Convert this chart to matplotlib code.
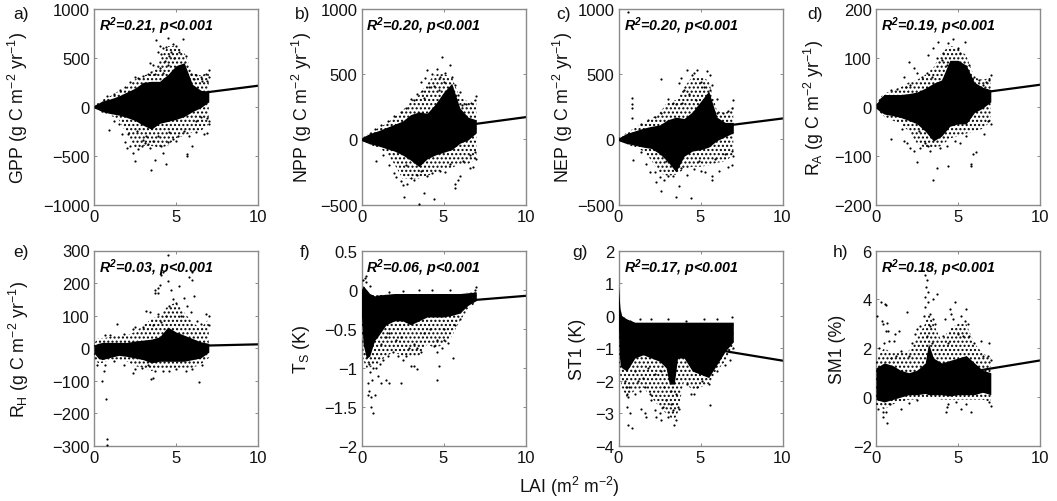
import matplotlib
matplotlib.use('Agg')
import matplotlib.pyplot as plt

plt.rcParams['font.family'] = 'Liberation Sans'
plt.rcParams['mathtext.fontset'] = 'custom'
plt.rcParams['mathtext.rm'] = 'Liberation Sans'
plt.rcParams['mathtext.it'] = 'Liberation Sans:italic'
plt.rcParams['mathtext.bf'] = 'Liberation Sans:bold'
plt.rcParams['mathtext.bfit'] = 'Liberation Sans:italic:bold'

lai_grid = [0, .25, .5, 1, 1.5, 2, 2.5, 3, 3.5, 4, 4.5, 5, 5.5, 6, 6.5, 7]
gpp_high = [12, 35, 60, 80, 110, 150, 190, 250, 260, 260, 330, 420, 450, 230, 170, 150]
gpp_low = [-12, -30, -50, -70, -85, -110, -140, -190, -230, -170, -150, -130, -100, -50, -10, 50]
npp_high = [10, 28, 45, 65, 90, 115, 140, 190, 210, 200, 270, 360, 430, 240, 170, 150]
npp_low = [-10, -22, -35, -50, -70, -90, -120, -160, -210, -150, -120, -100, -80, -30, -5, 50]
nep_high = [10, 28, 45, 65, 85, 100, 110, 150, 170, 160, 210, 290, 370, 170, 130, 130]
nep_low = [-10, -22, -33, -45, -60, -70, -110, -170, -250, -130, -90, -80, -60, -10, 20, 50]
ra_high = [4, 18, 25, 25, 25, 27, 30, 38, 48, 55, 95, 95, 85, 50, 40, 35]
ra_low = [-3, -10, -15, -18, -22, -28, -35, -50, -70, -60, -40, -35, -35, -12, -3, 10]
rh_high = [10, 15, 18, 18, 18, 18, 22, 25, 28, 35, 65, 50, 40, 30, 20, 15]
rh_low = [-15, -30, -35, -28, -22, -25, -30, -35, -45, -40, -40, -40, -40, -35, -30, -12]

# speckled outer part of each cloud
gpp_outer_high = [10, 40, 70, 110, 160, 200, 280, 320, 340, 480, 620, 620, 560, 350, 320, 350]
gpp_outer_low = [-10, -35, -60, -90, -130, -280, -430, -400, -400, -420, -400, -320, -300, -260, -250, -180]
npp_outer_high = [8, 30, 50, 85, 120, 170, 220, 290, 340, 430, 500, 500, 480, 320, 290, 300]
npp_outer_low = [-8, -25, -40, -65, -100, -190, -300, -300, -300, -280, -260, -230, -220, -190, -190, -150]
nep_outer_high = [8, 30, 50, 90, 125, 160, 200, 290, 300, 400, 480, 480, 450, 220, 200, 250]
nep_outer_low = [-8, -25, -40, -60, -90, -160, -260, -280, -270, -230, -210, -210, -200, -180, -170, -120]
ra_outer_high = [3, 18, 28, 32, 40, 50, 55, 65, 80, 110, 125, 120, 105, 60, 55, 60]
ra_outer_low = [-2, -12, -20, -28, -35, -50, -75, -85, -85, -80, -65, -60, -55, -50, -45, -30]
rh_outer_high = [15, 30, 30, 35, 40, 40, 50, 70, 90, 100, 130, 140, 110, 80, 60, 90]
rh_outer_low = [-35, -45, -45, -35, -35, -40, -55, -60, -70, -60, -65, -60, -60, -60, -50, -30]

ts_lai = [0, .1, .3, .5, .8, 1, 1.5, 2, 2.5, 3, 3.5, 4, 4.5, 5, 5.5, 6, 6.5, 7]
ts_high = [0, .05, 0, -.05, -.08, -.07, -.06, -.05, -.05, -.05, -.05, -.05, -.05, -.05, -.05, -.05, -.04, -.03]
ts_low = [-.35, -.7, -.88, -.85, -.65, -.6, -.45, -.4, -.4, -.45, -.4, -.35, -.35, -.35, -.33, -.3, -.2, -.14]
ts_outer_low = [-.4, -.9, -1.0, -1.0, -.95, -.95, -.85, -.8, -.85, -.85, -.85, -.7, -.75, -.7, -.6, -.4, -.25, -.16]

st1_lai = [0, .05, .1, .2, .5, 1, 1.5, 2, 2.5, 2.9, 3.1, 3.4, 3.6, 4, 4.5, 5, 5.5, 6, 6.5, 7]
st1_high = [.9, .5, .2, 0, -.1, -.2, -.2, -.2, -.2, -.2, -.2, -.2, -.2, -.2, -.2, -.2, -.2, -.2, -.2, -.2]
st1_low = [-.4, -1.2, -1.5, -1.6, -1.7, -1.3, -1.2, -1.3, -1.4, -1.6, -2.1, -2.1, -1.3, -1.3, -1.7, -1.8, -1.9, -1.5, -1.1, -.8]
st1_outer_low = [-.5, -1.5, -1.8, -2.2, -2.5, -2.3, -2.2, -2.5, -2.8, -3, -3.1, -3.2, -3, -2, -2.3, -2.2, -2.1, -1.7, -1.4, -1.0]

sm1_lai = [0, .5, 1, 1.5, 2, 2.5, 3, 3.2, 3.5, 4, 4.5, 5, 5.5, 6, 6.5, 7]
sm1_high = [1.2, 1.4, 1.3, 1.1, 1, 1.1, 1.4, 2.2, 1.6, 1.4, 1.5, 1.6, 1.7, 1.4, 1.1, 1]
sm1_low = [-.1, -.2, -.1, 0, .1, .1, .15, .1, .1, .1, .05, .1, .1, .1, .2, .1]
sm1_outer_high = [1.6, 2, 1.8, 1.8, 1.9, 2.4, 3, 3.5, 3, 2.3, 2.8, 3, 3, 2.2, 1.8, 1.6]
sm1_outer_low = [-.3, -.5, -.3, -.2, -.1, -.1, 0, 0, -.05, -.1, -.1, -.1, -.1, -.1, -.1, -.2]

# single dots outside the speckled part
gpp_points = [(3.8,680),(4.5,700),(4.0,620),(4.2,600),(4.4,610),(4.8,640),(5.0,620),(5.4,690),(5.2,560),(4.1,540),(4.6,520),(3.4,450),(3.6,430),(4.3,470),(4.9,500),(3.9,560),(4.7,560),(5.6,520),(5.9,330),(6.2,320),(6.5,300),(6.8,340),(7,380),(7,300),(6.9,260),(6.6,260),(6.1,280),(3.0,310),(3.3,330),(2.7,290),(2.5,300),(2.2,250),(1.9,200),(1.6,170),(1.2,130),(.8,110),(3.7,330),(4,400),(4.5,430),(3.5,360),(4.2,350),
	(.9,-240),(1.7,-280),(1.9,-360),(2,-420),(2.2,-400),(2.4,-470),(2.5,-550),(2.7,-430),(2.9,-400),(3.1,-370),(3.3,-380),(3.5,-650),(3.7,-540),(3.4,-420),(3.6,-350),(4.1,-400),(4.2,-470),(4.4,-590),(4.5,-360),(4.8,-330),(5,-350),(5.1,-300),(5.7,-480),(5.7,-500),(6,-400),(5.8,-300),(6.2,-260),(6.7,-280),(6.9,-270),(7,-180),(6.9,-110),(7,-150),(6.5,-100),(6.2,-150),(5.5,-250),(4.6,-260),(3.9,-300),(3.2,-300),(2.6,-250),(2.1,-280),(1.5,-180),(1.2,-150),(3.0,-340)]
npp_points = [(4.9,630),(5.4,570),(4.6,540),(4.0,530),(4.3,500),(3.9,470),(4.8,480),(5.1,510),(6,360),(5.9,340),(5.7,420),(3.4,350),(3.7,370),(3.2,300),(3,310),(2.7,240),(2.4,210),(2,180),(1.6,140),(1.2,110),(.8,80),(7,330),(6.9,300),(6.7,280),(6.4,270),(6.1,260),(5.5,480),(5,440),(4.4,410),(4.1,400),(3.8,320),(3.6,440),(4.7,380),
	(.9,-170),(1.7,-200),(2,-260),(2.1,-290),(2.4,-320),(2.5,-350),(2.6,-440),(2.8,-340),(3,-300),(3.2,-310),(3.5,-495),(3.8,-410),(4.4,-460),(3.4,-270),(4,-280),(4.3,-260),(4.8,-240),(5.1,-250),(5.7,-370),(5.7,-340),(5.9,-310),(6,-280),(6.6,-220),(6.8,-215),(7,-150),(6.9,-100),(6.6,-120),(6.2,-170),(5.4,-190),(3.6,-240),(2.7,-200),(1.3,-120)]
nep_points = [(.6,975),(.8,320),(.8,270),(.8,240),(.8,165),(2.6,465),(3.7,430),(3.8,470),(4.2,530),(4.5,490),(4.8,530),(4.6,510),(5.4,525),(5.6,490),(5.7,420),(6,310),(3,310),(3.3,280),(3.5,270),(4.0,380),(4.3,350),(5,440),(5.2,400),(5.6,380),(2.6,200),(2.2,170),(1.8,150),(1.4,120),(7,300),(6.9,240),(6.7,220),(6.4,200),(6,200),(3.9,280),(4.7,300),
	(.9,-160),(1.7,-190),(1.9,-250),(2.2,-250),(2.3,-330),(2.5,-290),(2.6,-400),(2.8,-310),(3,-280),(3.3,-280),(3.5,-440),(3.7,-360),(4.4,-450),(3.8,-220),(4.2,-270),(4.6,-230),(5,-240),(5.3,-250),(5.7,-310),(5.7,-280),(6.1,-240),(6.7,-215),(6.9,-200),(7,-130),(6.9,-90),(6.5,-110),(5.9,-150),(4.9,-170),(2.9,-170),(1.4,-100)]
ra_points = [(.9,35),(1.3,37),(1.7,60),(2,92),(2.3,80),(2.5,70),(3.2,105),(3.5,120),(3.7,100),(3.8,132),(4.1,110),(4.4,130),(4.7,138),(5,120),(5.4,132),(5.1,110),(4.0,95),(4.3,85),(2.8,60),(3.1,70),(5.7,85),(6,60),(6.3,55),(7,65),(6.9,55),(6.7,50),(6.5,45),(2.1,45),(1.8,40),(3.4,60),
	(.9,-65),(1.7,-70),(1.9,-75),(2.1,-85),(2.3,-90),(2.5,-113),(2.7,-85),(3,-75),(3.2,-80),(3.5,-150),(3.7,-125),(4.4,-122),(3.9,-85),(4.3,-80),(4.8,-70),(5.1,-75),(5.8,-117),(5.8,-122),(5.9,-97),(6.1,-93),(6.6,-55),(7,-35),(6.8,-30),(5.5,-60),(2.6,-50),(1.6,-45),(3.3,-90)]
rh_points = [(3.7,180),(3.7,170),(3.9,170),(3.9,185),(4,195),(4.1,225),(4.2,235),(4.5,285),(4.5,205),(4.7,180),(5.2,190),(5.8,220),(6,210),(6,235),(6.1,160),(5.5,155),(4.8,150),(4.6,130),(5,140),(3.2,115),(3.4,110),(3.9,105),(4.4,100),(5.7,130),(5.9,110),(6.3,85),(6.8,105),(7,100),(7,70),(6.5,75),(1.4,75),(2.4,60),(2.5,65),(1.8,45),(1.0,40),(.7,40),(3,65),(3.6,70),(4.1,80),(5.3,100),
	(.5,-100),(.6,-70),(.7,-50),(.75,-157),(.8,-278),(.8,-298),(2.4,-75),(2.5,-65),(2.9,-60),(3.5,-95),(3.6,-90),(3.7,-70),(4.2,-70),(4.6,-70),(5,-65),(5.6,-70),(6.4,-105),(6,-65),(6.6,-50),(3.3,-50),(1.8,-50),(1.2,-40),(.2,-50)]
ts_points = [(.1,.12),(.2,.15),(.3,.17),(.5,.05),(.3,.1),(2.5,-.02),(3.5,0),(4.3,0),(5.4,0),(7,.03),(6.9,0),(1.7,-.03),
	(.45,-.95),(.5,-1.05),(.4,-1.2),(.45,-1.3),(.4,-1.35),(.6,-1.37),(.8,-1.35),(.55,-1.5),(.7,-1.58),(.65,-1.15),(.9,-1.0),(1.1,-.95),(1.0,-1.1),(1.2,-1.2),(1.5,-1.15),(1.7,-1.2),(2.4,-1.2),(.7,-1.0),(1.3,-.9),(1.6,-.85),(1.9,-.8),(2.2,-.85),(2.5,-.9),(2.7,-.85),(3,-.98),(3.2,-.98),(3.4,-1.02),(4.7,-.98),(4.6,-1.15),(5.6,-.88),(4.4,-.72),(4.6,-.8),(4.9,-.75),(5,-.65),(5.3,-.68),(4.6,-.65),(3.4,-.75),(3.6,-.8),(3.2,-.7),(2.9,-.75),(2.1,-.65),(1.5,-.6),(1.2,-.7),(1.7,-.55),(2.4,-.6),(3.8,-.55),(5.7,-.45),(5,-.5),(4.2,-.5),(6,-.38)]
st1_points = [(.4,-2),(.45,-2.2),(.5,-2.4),(.6,-2.5),(.65,-2.2),(.5,-2.8),(.7,-3),(.6,-3.35),(.85,-3.45),(1,-2.4),(1.2,-2),(1.3,-2.3),(1.5,-1.9),(1.6,-2.2),(1.4,-2.85),(1.6,-3),(1.7,-3.1),(1.9,-2.4),(2,-2.6),(2.2,-2.9),(2.3,-3.1),(2.5,-3),(2.6,-3.2),(2.7,-2.8),(2.9,-2.6),(3,-3.1),(3.2,-2.7),(3.3,-2.9),(3.4,-3.35),(3.5,-3.2),(3.6,-2.8),(3.7,-2.85),(3.5,-2.4),(3.2,-2.3),(2.8,-2.2),(4.4,-2.4),(4.6,-2.4),(4.8,-2.2),(4.2,-2.1),(5.6,-2.75),(5.5,-2.1),(5.1,-2),(6,-1.7),(6.5,-1.5),(6.8,-1.35),(7,-1),(1,-1.7),(2.2,-1.8),(2.6,-1.7),(1.8,-1.6),
	(1.3,-.1),(2,-.1),(3,-.1),(4.1,-.15),(5.2,-.1),(6,-.1),(6.9,-.05)]
sm1_points = [(.05,3.3),(.3,3.9),(.55,3.8),(.6,3.75),(.35,3.1),(.45,3),(.7,3.05),(.2,2),(.6,2.7),(.75,2.7),(.5,2.2),(.8,2.3),(1.1,2.3),(1.15,2.6),(1.4,2.7),(1.9,3.5),(1.5,1.9),(2.2,2.2),(2.5,2.8),(2.4,2.6),(2.7,2.9),(2.9,3.3),(3,5),(3.1,4.8),(3.05,4.5),(3.15,4.3),(3,4.1),(3.2,3.9),(3,3.7),(3.3,3.4),(3.5,4),(3.7,4.2),(3.5,3.2),(3.6,3),(3.3,2.9),(4.2,3.2),(4.5,3.6),(4.6,3.4),(4.7,3.2),(4.8,3.9),(5.2,3.3),(5.5,3.6),(5.4,3.1),(5.6,3),(5.3,2.5),(5,2.6),(5.7,2.5),(6,2.2),(6.4,2.3),(6.9,2.2),(6.8,1.7),(7,1.5),(6.5,1.7),(4.1,2.5),(4.4,2.2),(2,1.7),(1.2,1.7),(.9,1.6),(3.4,2.2),(3.1,2.5),
	(.1,-.5),(.4,-.6),(.45,-.8),(.7,-1.05),(.6,-.6),(.85,-.3),(1.5,-.5),(2,-.25),(2.5,-.1),(4.3,-.4),(4.25,-.6),(4.4,-.3),(5.2,-.5),(5.8,-.6),(7,-.35),(6.9,-.2),(4.9,-.2),(5.5,-.3)]

# regression line: value at LAI 0 and at LAI 10
fit_x = [0, 10]
gpp_fit = [0, 215]
npp_fit = [0, 170]
nep_fit = [0, 160]
ra_fit = [0, 45]
rh_fit = [0, 12]
ts_fit = [-.25, -.08]
st1_fit = [-.55, -1.38]
sm1_fit = [.4, 1.5]

x_ticks = [0, 5, 10]
gpp_ticks = [-1000, -500, 0, 500, 1000]
npp_ticks = [-500, 0, 500, 1000]
ra_ticks = [-200, -100, 0, 100, 200]
rh_ticks = [-300, -200, -100, 0, 100, 200, 300]
ts_ticks = [-2, -1.5, -1, -.5, 0, .5]
st1_ticks = [-4, -3, -2, -1, 0, 1, 2]
sm1_ticks = [-2, 0, 2, 4, 6]

W, H = 1057, 502
GREY = '#8a8a8a'

panels = [
	('a)', r'GPP (g C m$^{-2}$ yr$^{-1}$)', '0.21', lai_grid, gpp_low, gpp_high, gpp_outer_low, gpp_outer_high, gpp_points, gpp_fit, gpp_ticks, 94, 10, 13, 18),
	('b)', r'NPP (g C m$^{-2}$ yr$^{-1}$)', '0.20', lai_grid, npp_low, npp_high, npp_outer_low, npp_outer_high, npp_points, npp_fit, npp_ticks, 361.5, 10, 295, 302),
	('c)', r'NEP (g C m$^{-2}$ yr$^{-1}$)', '0.20', lai_grid, nep_low, nep_high, nep_outer_low, nep_outer_high, nep_points, nep_fit, npp_ticks, 618.5, 10, 556, 563),
	('d)', r'R$_{\mathrm{A}}$ (g C m$^{-2}$ yr$^{-1}$)', '0.19', lai_grid, ra_low, ra_high, ra_outer_low, ra_outer_high, ra_points, ra_fit, ra_ticks, 876, 10, 807, 814),
	('e)', r'R$_{\mathrm{H}}$ (g C m$^{-2}$ yr$^{-1}$)', '0.03', lai_grid, rh_low, rh_high, rh_outer_low, rh_outer_high, rh_points, rh_fit, rh_ticks, 94, 251.5, 13, 19),
	('f)', r'T$_{\mathrm{S}}$ (K)', '0.06', ts_lai, ts_low, ts_high, ts_outer_low, ts_high, ts_points, ts_fit, ts_ticks, 361.5, 251.5, 300, 302),
	('g)', 'ST1 (K)', '0.17', st1_lai, st1_low, st1_high, st1_outer_low, st1_high, st1_points, st1_fit, st1_ticks, 618.5, 251.5, 572, 577),
	('h)', 'SM1 (%)', '0.18', sm1_lai, sm1_low, sm1_high, sm1_outer_low, sm1_outer_high, sm1_points, sm1_fit, sm1_ticks, 876, 251.5, 833, 838),
]


def tick_text(v):
	return ('%g' % v).replace('-', '\u2212')


def main():
	fig = plt.figure(figsize=(W / 100, H / 100), dpi=100)
	ax_w, ax_h = 164, 195.5

	for i, p in enumerate(panels):
		letter, ylabel, r2, lai, low, high, outer_low, outer_high, points, fit, yticks, left, top, letter_x, label_x = p
		ax = fig.add_axes([left / W, 1 - (top + ax_h) / H, ax_w / W, ax_h / H])
		ax.plot(fit_x, fit, color='black', lw=1.6, zorder=2)
		ax.fill_between(lai, outer_low, outer_high, facecolor='none', edgecolor='black', hatch='....', lw=0, zorder=3)
		ax.fill_between(lai, low, high, color='black', lw=0, zorder=3)
		ax.scatter([q[0] for q in points], [q[1] for q in points], s=2.5, color='black', lw=0, zorder=3)

		ax.set_xlim(0, 10)
		ax.set_ylim(yticks[0], yticks[-1])
		ax.set_xticks(x_ticks)
		ax.set_xticklabels([tick_text(v) for v in x_ticks])
		ax.set_yticks(yticks)
		ax.set_yticklabels([tick_text(v) for v in yticks])
		ax.tick_params(direction='in', length=2, width=0.7, color=GREY, top=True, right=True, labelsize=12, pad=3, labelcolor='#111111')
		for s in ax.spines.values():
			s.set_color(GREY)
			s.set_linewidth(1)

		ax.text(5 / ax_w, 0.915, r'R$^{\mathbfit{2}}$=' + r2 + ', p<0.001', transform=ax.transAxes,
			fontsize=10.3, fontweight='bold', style='italic', va='center', ha='left', zorder=5)
		row_top = 14 if i < 4 else 252
		fig.text(letter_x / W, 1 - row_top / H, letter, fontsize=12.5, va='center', ha='left', color='#111111')
		fig.text(label_x / W, 1 - (top + ax_h / 2) / H, ylabel, fontsize=12.8, rotation=90, va='center', ha='center', color='#111111')

	fig.text(569 / W, 1 - 487 / H, r'LAI (m$^{2}$ m$^{-2}$)', fontsize=12.7, va='center', ha='center', color='#111111')
	fig.savefig('out.png', dpi=100)


if __name__ == '__main__':
	main()
